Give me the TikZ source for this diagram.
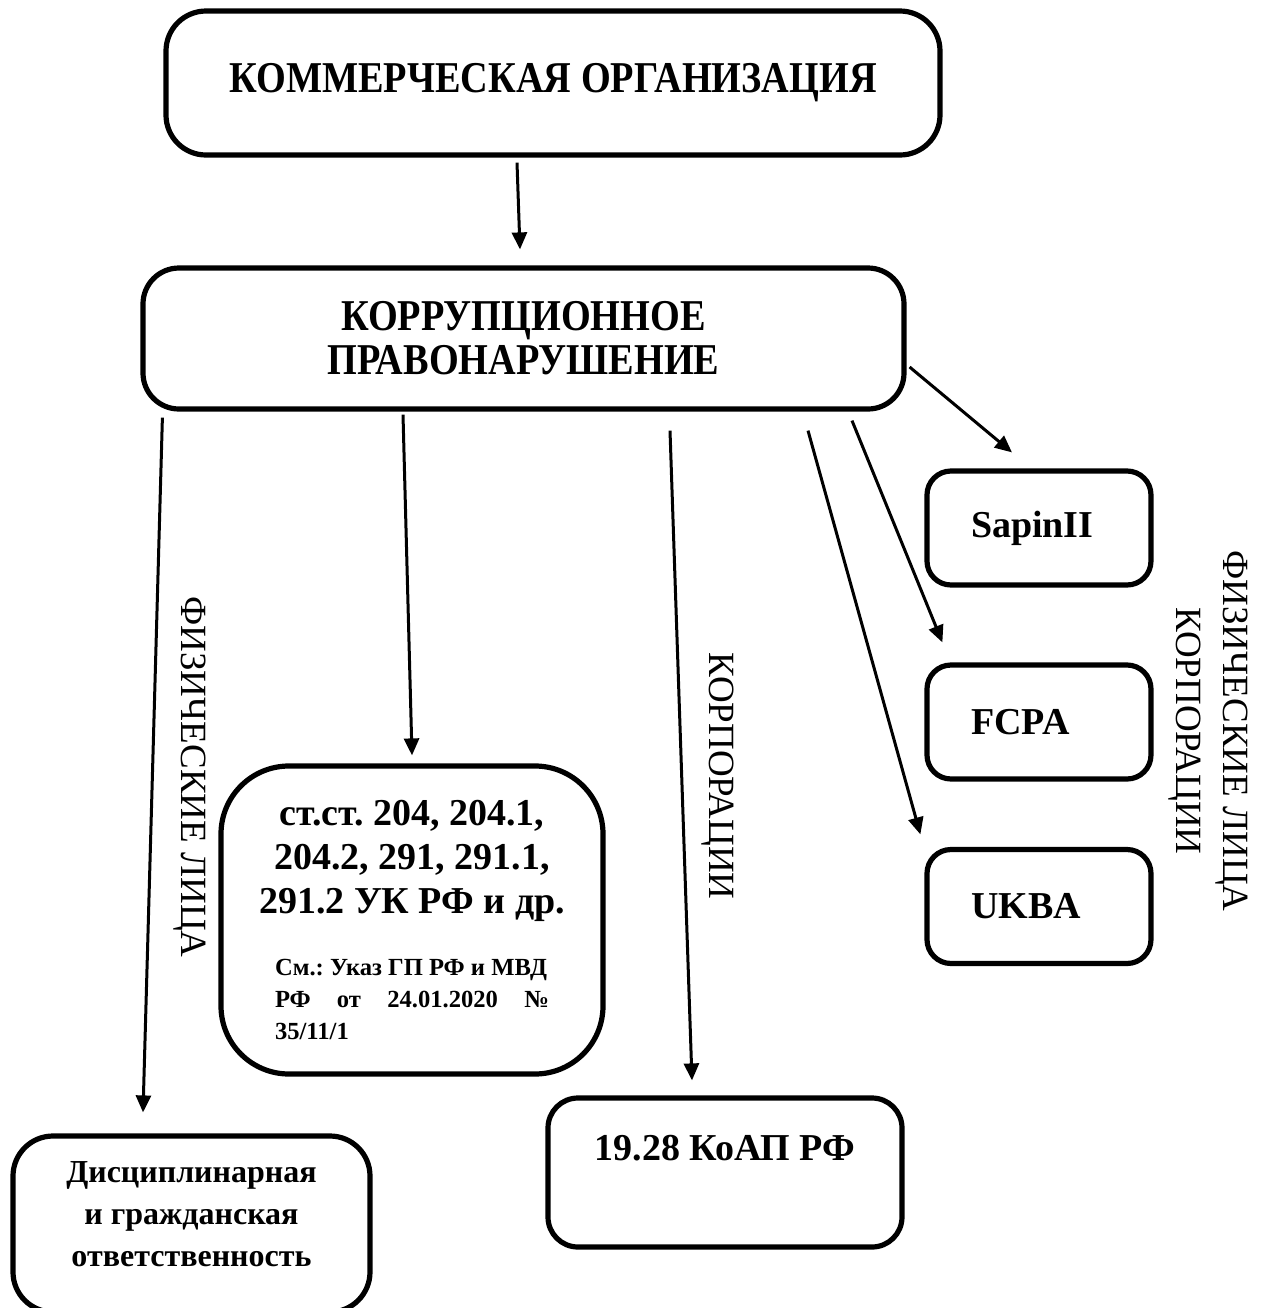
\documentclass[tikz,border=0pt]{standalone}
\usepackage{fontspec}
\setmainfont{Liberation Serif}
\newfontfamily\headfont{Liberation Serif}[FakeStretch=0.87]
\usetikzlibrary{arrows.meta,calc}
\frenchspacing

\begin{document}
\begin{tikzpicture}[x=0.5pt, y=-0.5pt,
    main box/.style={draw, line width=2.6pt, rounded corners=#1, align=center, inner sep=0pt,
                     font=\bfseries\fontsize{19}{22}\selectfont},
    main box/.default=14pt,
    head box/.style={main box=#1, font=\headfont\bfseries\fontsize{22}{22}\selectfont},
    law box/.style={main box=12pt, minimum width=112pt, minimum height=57pt,
                    text width=68pt, inner xsep=22pt, align=left},
    side label/.style={rotate=-90, align=center, font=\fontsize{18.5}{23.5}\selectfont},
    arr/.style={-{Triangle[length=8.5pt,width=7.5pt]}, line width=1.5pt}]
        \useasboundingbox (0,0) rectangle (1261,1308);

          \node[head box=20pt, minimum width=387pt, minimum height=72pt] (1) at (553,83) {КОММЕРЧЕСКАЯ ОРГАНИЗАЦИЯ};
          \node[head box=18pt, minimum width=380.5pt, minimum height=70.5pt] (2) at (523.5,338.5) {КОРРУПЦИОННОЕ\\ПРАВОНАРУШЕНИЕ};
          \node[main box=20pt, minimum width=178.5pt, minimum height=88pt, font=\bfseries\fontsize{16}{21}\selectfont] (3) at (191.5,1224)
            {Дисциплинарная\\и гражданская\\ответственность\\[-11pt]\mbox{}};
          \node[main box=34pt, minimum width=191pt, minimum height=154pt] (4) at (412,920)
            {ст.ст. 204, 204.1,\\204.2, 291, 291.1,\\291.2 УК РФ и др.\\[18pt]
             {\fontsize{12.3}{16}\selectfont\parbox{137pt}{См.: Указ ГП РФ и МВД\\РФ\hfill от\hfill 24.01.2020\hfill №\\35/11/1}}};
          \node[main box=15pt, minimum width=177pt, minimum height=74.5pt] (5) at (725,1172.5) {19.28 КоАП РФ\\[-4pt]\strut};
          \node[law box] (6) at (1039,528) {SapinII};
          \node[law box] (7) at (1039,722) {FCPA};
          \node[law box] (8) at (1039,906.5) {UKBA};

          \node[side label] (9) at (190,777) {ФИЗИЧЕСКИЕ ЛИЦА};
          \node[side label] (10) at (718,776) {КОРПОРАЦИИ};
          \node[side label] (11) at (1208,731) {ФИЗИЧЕСКИЕ ЛИЦА\\КОРПОРАЦИИ};

          % arrow ends
          \coordinate (1s) at ($(1.south)+(-36,5)$);
          \coordinate (2n) at ($(2.north)+(-3.5,-16)$);
          \coordinate (2a) at ($(2.south west)+(22,6)$);
          \coordinate (2b) at ($(2.south)+(-120.5,3)$);
          \coordinate (2c) at ($(2.south)+(146.5,19)$);
          \coordinate (2d) at ($(2.south)+(284.5,19)$);
          \coordinate (2e) at ($(2.south)+(328.5,9)$);
          \coordinate (2f) at ($(2.east)+(3,28.5)$);
          \coordinate (3n) at ($(3.north)+(-48.5,-21)$);
          \coordinate (4n) at ($(4.north)+(0,-8)$);
          \coordinate (5n) at ($(5.north)+(-33,-15)$);
          \coordinate (6n) at ($(6.north)+(-27,-16)$);
          \coordinate (7n) at ($(7.north west)+(18,-20)$);
          \coordinate (8n) at ($(8.north west)+(-4,-12.5)$);

          \path[arr]
            (1s) edge (2n)
            (2a) edge (3n)
            (2b) edge (4n)
            (2c) edge (5n)
            (2d) edge (8n)
            (2e) edge (7n)
            (2f) edge (6n);

        \end{tikzpicture}
\end{document}
